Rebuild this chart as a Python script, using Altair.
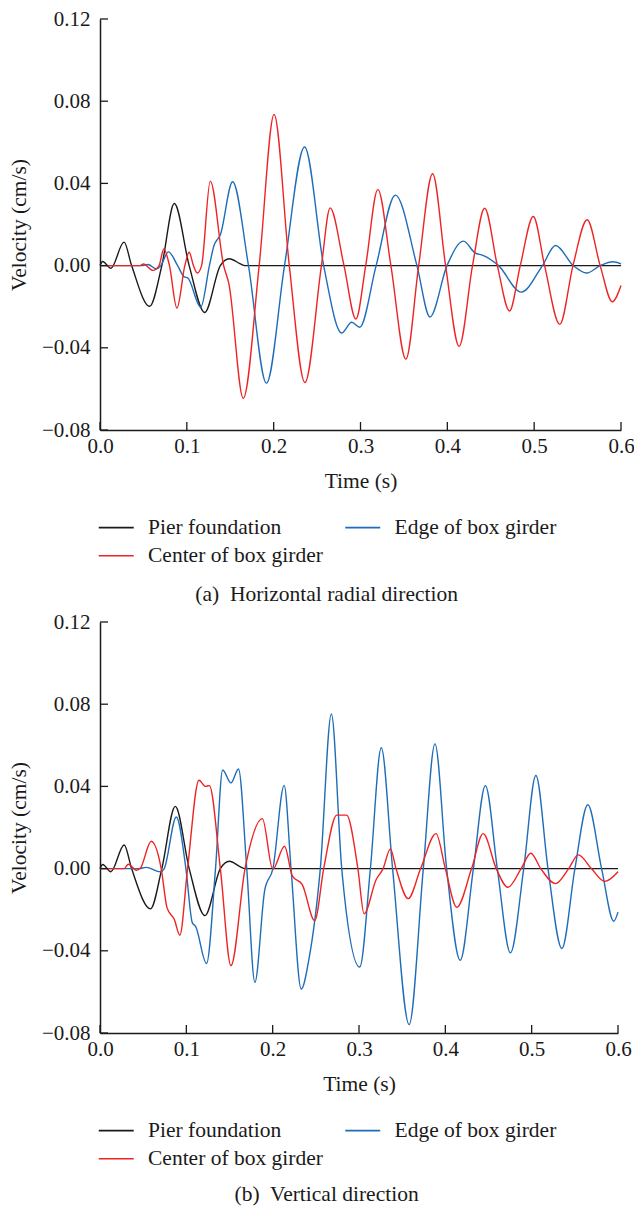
import altair as alt
import pandas as pd

FONT = "Liberation Serif"
INK = "#1a1a1a"

x_ticks = [0.0, 0.1, 0.2, 0.3, 0.4, 0.5, 0.6]
y_ticks = [-0.08, -0.04, 0.0, 0.04, 0.08, 0.12]
series_names = ["Pier foundation", "Edge of box girder", "Center of box girder"]
series_colors = ["#1a1a1a", "#1f6db8", "#ee2424"]
captions = ["(a)\u00a0 Horizontal radial direction", "(b)\u00a0 Vertical direction"]

# ---- (a) Horizontal radial direction ----
a_pier_t = [0, 0.003, 0.0125, 0.0277, 0.0364, 0.0572, 0.0712, 0.0856, 0.1027, 0.1205, 0.1386, 0.149, 0.161, 0.167, 0.6]
a_pier_v = [0, 0.002, -0.0013, 0.0114, 0, -0.0198, 0, 0.0302, 0, -0.0228, 0, 0.0033, 0.001, 0, 0]

a_center_t = [0, 0.046, 0.050, 0.061, 0.068, 0.0735, 0.080, 0.0886, 0.0977, 0.1027, 0.1076, 0.112, 0.117,
              0.127, 0.1424, 0.1485, 0.165, 0.1833, 0.2005, 0.218, 0.236, 0.255, 0.265, 0.281, 0.2947,
              0.306, 0.320, 0.335, 0.3523, 0.367, 0.383, 0.398, 0.4136, 0.429, 0.443, 0.4576, 0.4716,
              0.484, 0.499, 0.512, 0.5295, 0.5447, 0.561, 0.576, 0.590, 0.6]
a_center_v = [0, 0, 0.0008, -0.0023, 0, 0.0081, 0, -0.0207, 0, 0.0065, 0, -0.0036, 0,
              0.0411, 0, -0.009, -0.0646, 0, 0.0735, 0, -0.0569, 0, 0.0281, 0, -0.026,
              0, 0.0371, 0, -0.0455, 0, 0.0447, 0, -0.0393, 0, 0.0279, 0, -0.0221,
              0, 0.0239, 0, -0.0286, 0, 0.0223, 0, -0.0176, -0.0097]

a_edge_t = [0, 0.048, 0.0553, 0.065, 0.070, 0.0788, 0.0894, 0.097, 0.101, 0.116, 0.126, 0.131, 0.1386,
            0.1527, 0.171, 0.1917, 0.2125, 0.2356, 0.2576, 0.2784, 0.2898, 0.2992, 0.318, 0.3402,
            0.365, 0.380, 0.3996, 0.4186, 0.4318, 0.441, 0.459, 0.485, 0.5095, 0.5246, 0.545,
            0.5606, 0.576, 0.591, 0.6]
a_edge_v = [0, 0, 0.0005, -0.0016, 0, 0.0067, 0, -0.0055, -0.006, -0.0202, 0, 0.0094, 0.015,
            0.0408, 0, -0.0572, 0, 0.0577, 0, -0.0328, -0.0276, -0.030, 0, 0.0343,
            0, -0.025, 0, 0.0119, 0.0062, 0.005, 0, -0.0129, 0, 0.0098, 0,
            -0.0036, 0, 0.0019, 0.0008]

# ---- (b) Vertical direction ----
b_pier_t = [0, 0.003, 0.0126, 0.028, 0.0366, 0.0585, 0.0716, 0.0872, 0.1033, 0.1215, 0.1394, 0.1499, 0.162, 0.168, 0.6]
b_pier_v = [0, 0.002, -0.0015, 0.0115, 0, -0.0196, 0, 0.0303, 0, -0.0229, 0, 0.0036, 0.001, 0, 0]

b_center_t = [0, 0.028, 0.0328, 0.0422, 0.0465, 0.0593, 0.0709, 0.0776, 0.0861, 0.0925, 0.1014, 0.1146,
              0.1223, 0.1267, 0.1394, 0.1517, 0.168, 0.1881, 0.2001, 0.2137, 0.2229, 0.2343, 0.2487,
              0.2591, 0.2743, 0.2856, 0.2987, 0.3059, 0.3198, 0.3279, 0.3364, 0.3429, 0.357, 0.3714,
              0.3892, 0.40, 0.4133, 0.4304, 0.4438, 0.459, 0.4724, 0.4878, 0.499, 0.5105, 0.5276,
              0.5429, 0.5541, 0.5692, 0.5847, 0.6]
b_center_v = [0, 0, 0.0021, -0.0008, 0, 0.0133, 0, -0.019, -0.0248, -0.0324, 0, 0.043,
              0.040, 0.0404, 0, -0.0472, 0, 0.0243, -0.0003, 0.0109, -0.0037, -0.0078, -0.0253,
              0, 0.026, 0.026, 0, -0.022, -0.0054, 0, 0.0096, 0, -0.0146, 0,
              0.017, 0, -0.0188, 0, 0.017, 0, -0.0091, 0, 0.0075, 0, -0.0073,
              0, 0.0067, 0, -0.0062, -0.0015]

b_edge_t = [0, 0.045, 0.0533, 0.0701, 0.0744, 0.0884, 0.0995, 0.107, 0.1106, 0.1234, 0.1338, 0.1421,
            0.1517, 0.1604, 0.170, 0.1794, 0.1909, 0.2003, 0.2133, 0.2213, 0.2331, 0.2419, 0.2552,
            0.268, 0.28, 0.3009, 0.3132, 0.3258, 0.3389, 0.3581, 0.3745, 0.388, 0.4015, 0.4172,
            0.4325, 0.4464, 0.4602, 0.4754, 0.4908, 0.5049, 0.5189, 0.535, 0.5501, 0.565, 0.581,
            0.5951, 0.6]
b_edge_v = [0, 0, 0.0006, -0.0016, 0, 0.0251, 0, -0.0264, -0.028, -0.0462, 0, 0.048,
            0.0417, 0.0485, 0, -0.0553, -0.0102, 0, 0.0405, 0, -0.0586, -0.0443, 0,
            0.0752, 0, -0.0479, 0, 0.0588, 0, -0.0759, 0, 0.0607, 0, -0.0446,
            0, 0.0404, 0, -0.041, 0, 0.0453, 0, -0.0389, 0, 0.0311, 0,
            -0.0256, -0.0212]

H = 411


def frame(t, v, name):
    return pd.DataFrame({"t": t, "v": v, "series": name})


def panel(parts, caption, width, cap_y):
    df = pd.concat([frame(*p) for p in parts], ignore_index=True)
    x_scale = alt.Scale(domain=[0, 0.6], nice=False)
    y_scale = alt.Scale(domain=[-0.08, 0.12], nice=False)
    common = dict(domainColor=INK, domainWidth=1.5, tickSize=0, grid=False,
                  labelFont=FONT, labelFontSize=21, labelColor=INK, labelFlush=False,
                  titleFont=FONT, titleFontSize=21.5, titleFontWeight="normal", titleColor=INK)
    x_axis = alt.Axis(values=x_ticks, format=".1f", title="Time (s)",
                      labelPadding=5.5, titlePadding=13.5, **common)
    y_axis = alt.Axis(values=y_ticks, format=".2f", title="Velocity (cm/s)",
                      labelPadding=10, titlePadding=10.6, **common)
    lines = alt.Chart(df).mark_line(interpolate="monotone", strokeWidth=1.4).encode(
        x=alt.X("t:Q", scale=x_scale, axis=x_axis),
        y=alt.Y("v:Q", scale=y_scale, axis=y_axis),
        color=alt.Color("series:N",
                        scale=alt.Scale(domain=series_names, range=series_colors),
                        legend=alt.Legend(orient="none", legendX=5.5, legendY=497.5, columns=2,
                                          direction="horizontal",
                                          symbolType="M-2.5,0H2.5", symbolSize=196,
                                          symbolStrokeWidth=1.6, labelFont=FONT,
                                          labelFontSize=21.5, labelColor=INK, labelOffset=21,
                                          columnPadding=18.5, rowPadding=5.5, labelLimit=400,
                                          title=None, padding=0)),
        detail="series:N",
    )
    xt = alt.Chart(pd.DataFrame({"tick": x_ticks})).mark_rule(color=INK, strokeWidth=1.3).encode(
        x=alt.X("tick:Q", scale=x_scale, axis=x_axis),
        y=alt.value(H), y2=alt.value(H - 8))
    yt = alt.Chart(pd.DataFrame({"tick": y_ticks})).mark_rule(color=INK, strokeWidth=1.3).encode(
        y=alt.Y("tick:Q", scale=y_scale, axis=y_axis),
        x=alt.value(0), x2=alt.value(8))
    cap = alt.Chart(pd.DataFrame({"caption": [caption]})).mark_text(
        font=FONT, fontSize=21.5, align="center", baseline="middle", color=INK).encode(
        text="caption:N", x=alt.value(226.6), y=alt.value(cap_y))
    return alt.layer(lines, xt, yt, cap).properties(width=width, height=H)


pa = panel([(a_pier_t, a_pier_v, series_names[0]),
            (a_edge_t, a_edge_v, series_names[1]),
            (a_center_t, a_center_v, series_names[2])], captions[0], 521, 576)
pb = panel([(b_pier_t, b_pier_v, series_names[0]),
            (b_edge_t, b_edge_v, series_names[1]),
            (b_center_t, b_center_v, series_names[2])], captions[1], 518, 573)

chart = alt.vconcat(pa, pb, spacing=5).resolve_scale(color="independent").properties(
    padding={"left": 0, "top": 0, "right": -1, "bottom": 0}, background="white"
).configure_view(strokeWidth=0)

chart.save("out.html", embed_options={"renderer": "svg", "actions": False})
